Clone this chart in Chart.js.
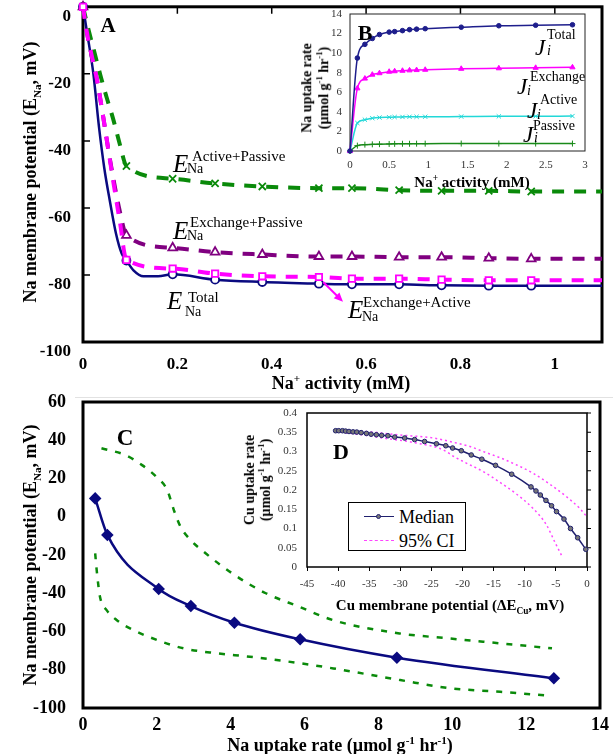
<!DOCTYPE html>
<html>
<head>
<meta charset="utf-8">
<script src="https://cdn.jsdelivr.net/npm/chart.js@4.4.0/dist/chart.umd.min.js"></script>
<style>
body { margin: 0; background: #fff; }
#fig { position: relative; width: 613px; height: 754px; overflow: hidden; font-family: "Liberation Serif", "Times New Roman", serif; }
#fig canvas { position: absolute; }
.t { position: absolute; white-space: nowrap; line-height: 1; color: #000; }
.b { font-weight: bold; }
.ctr { transform: translate(-50%, -50%); }
.lc { transform: translateY(-50%); }
.rot { transform: translate(-50%, -50%) rotate(-90deg); text-align: center; }
.t sup, .t sub { font-size: 0.62em; line-height: 0; }
.E { font-style: italic; font-size: 25px; }
.J { font-style: italic; font-size: 23px; }
.sp { font-size: 15px; }
.sb { font-size: 14px; }
.js { font-size: 14px; }
.ji { font-size: 14px; font-style: italic; }
#legD { position: absolute; left: 348px; top: 502px; width: 116px; height: 47px; border: 1.5px solid #000; background: #fff; }
</style>
</head>
<body>
<div id="fig">
  <canvas id="cA" width="613" height="400" style="left:0;top:0"></canvas>
  <canvas id="cB" width="313" height="185" style="left:290px;top:5px"></canvas>
  <canvas id="cC" width="613" height="364" style="left:0;top:390px"></canvas>
  <canvas id="cD" width="383" height="220" style="left:230px;top:400px"></canvas>

  <div style="position:absolute;left:75px;top:397px;width:538px;height:1px;background:#e2e2e2"></div>

  <!-- panel A texts -->
  <div class="t b ctr" style="left:108px;top:25px;font-size:21px">A</div>
  <div class="t b rot" style="left:30px;top:172px;font-size:18px">Na membrane potential (E<sub>Na</sub>, mV)</div>
  <div class="t b ctr" style="left:341px;top:383px;font-size:18px">Na<sup>+</sup> activity (mM)</div>

  <div class="t E" style="left:173px;top:151px">E</div>
  <div class="t sp lc" style="left:192px;top:156px">Active+Passive</div>
  <div class="t sb lc" style="left:187px;top:169px">Na</div>

  <div class="t E" style="left:173px;top:218px">E</div>
  <div class="t sp lc" style="left:190px;top:222px">Exchange+Passive</div>
  <div class="t sb lc" style="left:187px;top:236px">Na</div>

  <div class="t E" style="left:167px;top:288px">E</div>
  <div class="t sp lc" style="left:188px;top:297px">Total</div>
  <div class="t sb lc" style="left:185px;top:312px">Na</div>

  <div class="t E" style="left:348px;top:297px">E</div>
  <div class="t sp lc" style="left:363px;top:302px">Exchange+Active</div>
  <div class="t sb lc" style="left:362px;top:317px">Na</div>

  <!-- panel B texts -->
  <div class="t b ctr" style="left:365px;top:33px;font-size:22px">B</div>
  <div class="t b rot" style="left:316px;top:88px;font-size:14px;line-height:1.2">Na uptake rate<br>(&micro;mol g<sup>-1</sup> hr<sup>-1</sup>)</div>
  <div class="t b ctr" style="left:472px;top:182px;font-size:15px">Na<sup>+</sup> activity (mM)</div>

  <div class="t J" style="left:535px;top:36px">J</div>
  <div class="t js lc" style="left:547px;top:35px">Total</div>
  <div class="t ji lc" style="left:547px;top:51px">i</div>

  <div class="t J" style="left:517px;top:75px">J</div>
  <div class="t js lc" style="left:530px;top:77px">Exchange</div>
  <div class="t ji lc" style="left:527px;top:91px">i</div>

  <div class="t J" style="left:527px;top:99px">J</div>
  <div class="t js lc" style="left:540px;top:100px">Active</div>
  <div class="t ji lc" style="left:537px;top:115px">i</div>

  <div class="t J" style="left:523px;top:123px">J</div>
  <div class="t js lc" style="left:533px;top:126px">Passive</div>
  <div class="t ji lc" style="left:534px;top:138px">i</div>

  <!-- panel C texts -->
  <div class="t b ctr" style="left:125px;top:437px;font-size:23px">C</div>
  <div class="t b rot" style="left:30px;top:555px;font-size:18px">Na membrane potential (E<sub>Na</sub>, mV)</div>
  <div class="t b ctr" style="left:340px;top:745px;font-size:18px">Na uptake rate (&micro;mol g<sup>-1</sup> hr<sup>-1</sup>)</div>

  <!-- panel D texts -->
  <div class="t b ctr" style="left:341px;top:452px;font-size:22px">D</div>
  <div class="t b rot" style="left:258px;top:480px;font-size:14px;line-height:1.15">Cu uptake rate<br>(&micro;mol g<sup>-1</sup> hr<sup>-1</sup>)</div>
  <div class="t b ctr" style="left:450px;top:605px;font-size:15px">Cu membrane potential (&Delta;E<sub>Cu</sub>, mV)</div>

  <div id="legD">
    <div style="position:absolute;left:15px;top:13px;width:30px;border-top:1.5px solid #20206e"></div>
    <div style="position:absolute;left:27px;top:11px;width:5px;height:5px;border-radius:50%;background:#777;border:1px solid #20206e;box-sizing:border-box"></div>
    <div class="t lc" style="left:50px;top:14px;font-size:18px">Median</div>
    <div style="position:absolute;left:15px;top:37px;width:30px;border-top:1.5px dashed #ff44ff"></div>
    <div class="t lc" style="left:50px;top:38px;font-size:18px">95% CI</div>
  </div>
</div>

<script>
// ---- Panel A: Na membrane potential vs Na+ activity
const aMarkX = [0, 0.092, 0.19, 0.28, 0.38, 0.5, 0.57, 0.67, 0.76, 0.86, 0.95];

const aTotalX = [0, 0.009, 0.022, 0.034, 0.045, 0.057, 0.07, 0.082, 0.092, 0.107, 0.128, 0.159, 0.19, 0.28, 0.38, 0.5, 0.57, 0.67, 0.76, 0.86, 0.95, 1.1];
const aTotalY = [0, -8, -20, -36, -48, -58, -67.7, -73.6, -75.7, -78.6, -80.4, -80.4, -79.8, -81.4, -82.1, -82.6, -82.8, -82.8, -83.1, -83.2, -83.2, -83.2];

const aExActX = [0, 0.008, 0.018, 0.029, 0.043, 0.053, 0.064, 0.078, 0.092, 0.19, 0.28, 0.38, 0.5, 0.57, 0.67, 0.76, 0.86, 0.95, 1.1];
const aExActY = [0, -7.4, -14.3, -21.3, -33, -42, -52, -64, -75.5, -78.1, -79.6, -80.4, -80.6, -81.1, -81.1, -81.4, -81.6, -81.6, -81.6];

const aExPasX = [0, 0.008, 0.018, 0.029, 0.043, 0.053, 0.064, 0.078, 0.092, 0.19, 0.28, 0.38, 0.5, 0.57, 0.67, 0.76, 0.86, 0.95, 1.1];
const aExPasY = [0, -7.4, -14.3, -21.3, -33, -42, -51, -61, -68.2, -71.9, -73.2, -73.9, -74.5, -74.5, -74.7, -74.7, -75.0, -75.2, -75.2];

const aActPasX = [0, 0.012, 0.025, 0.037, 0.05, 0.064, 0.078, 0.092, 0.19, 0.28, 0.38, 0.5, 0.57, 0.67, 0.76, 0.86, 0.95, 1.1];
const aActPasY = [0, -7, -14, -20.5, -27, -33.5, -41, -47.5, -51.3, -52.7, -53.6, -54.1, -54.1, -54.7, -54.9, -54.9, -55.1, -55.1];

const aArrowFrom = [0.509, -82.1];
const aArrowTo = [0.551, -88];

// ---- Panel B: Na uptake rate vs Na+ activity
const bX = [0, 0.094, 0.19, 0.285, 0.376, 0.5, 0.57, 0.67, 0.76, 0.85, 0.96, 1.42, 1.9, 2.37, 2.84];
const bTotal = [0, 9.5, 10.9, 11.5, 11.9, 12.15, 12.2, 12.3, 12.4, 12.45, 12.5, 12.65, 12.8, 12.85, 12.9];
const bExchange = [0, 6.4, 7.4, 7.8, 7.95, 8.1, 8.15, 8.2, 8.24, 8.27, 8.3, 8.4, 8.45, 8.5, 8.55];
const bActive = [0, 2.86, 3.2, 3.35, 3.42, 3.45, 3.47, 3.48, 3.5, 3.5, 3.5, 3.52, 3.54, 3.55, 3.57];
const bPassive = [0, 0.55, 0.65, 0.68, 0.7, 0.72, 0.73, 0.74, 0.74, 0.75, 0.75, 0.76, 0.76, 0.76, 0.76];

// ---- Panel C: membrane potential vs Na uptake rate
const cMedX = [0.33, 0.66, 2.05, 2.92, 4.1, 5.88, 8.5, 12.75];
const cMedY = [9.6, -9.5, -37.8, -46.7, -55.4, -64.1, -73.7, -84.5];
const cUpX = [0.5, 1.14, 1.6, 2.0, 2.28, 2.46, 2.64, 2.87, 3.32, 4.04, 4.95, 5.85, 6.76, 8.57, 9.9, 11.3, 12.7];
const cUpY = [35.8, 32.3, 27, 20.6, 14, 3.5, -5.2, -11.3, -19.1, -29.6, -40, -47, -54, -61, -63.6, -66.2, -68.8];
const cLoX = [0.33, 0.37, 0.46, 0.64, 0.91, 1.36, 2.0, 2.72, 3.62, 4.52, 5.88, 6.78, 8.59, 9.95, 11.3, 12.7];
const cLoY = [-19.1, -27.8, -41.8, -48.8, -54, -59.2, -64.4, -68.8, -71.4, -73.2, -76.6, -79.3, -85.4, -89.7, -91.5, -93.7];

// ---- Panel D: Cu uptake rate vs Cu membrane potential
const dMedX = [-40.4, -39.9, -39.3, -38.8, -38.25, -37.6, -37.0, -36.3, -35.45, -34.7, -33.85, -33.0, -32.0, -30.9, -29.3, -27.7, -26.1, -24.2, -22.7, -21.6, -20.2, -18.6, -16.9, -14.7, -12.1, -9.0, -8.2, -7.5, -6.6, -5.7, -4.9, -3.7, -2.65, -1.5, -0.2];
const dMedY = [0.354, 0.354, 0.354, 0.353, 0.352, 0.351, 0.3505, 0.349, 0.347, 0.345, 0.3436, 0.342, 0.341, 0.3375, 0.335, 0.331, 0.326, 0.32, 0.315, 0.309, 0.302, 0.291, 0.28, 0.264, 0.241, 0.208, 0.1975, 0.187, 0.173, 0.159, 0.144, 0.1245, 0.1, 0.076, 0.046];
const dUpX = [-40.4, -35, -30.1, -24.7, -21.5, -18.8, -16.7, -14.0, -11.3, -8.66, -5.98, -3.3, -1.15, 0];
const dUpY = [0.356, 0.351, 0.343, 0.335, 0.324, 0.313, 0.3, 0.284, 0.265, 0.2436, 0.215, 0.1826, 0.152, 0.13];
const dLoX = [-40.4, -36, -32.8, -27.4, -23.1, -21.4, -19.4, -16.7, -14.0, -11.3, -8.66, -6.5, -5.18, -4.1];
const dLoY = [0.352, 0.343, 0.335, 0.322, 0.304, 0.287, 0.27, 0.248, 0.22, 0.189, 0.152, 0.109, 0.065, 0.0305];

Chart.defaults.font.family = '"Liberation Serif", "Times New Roman", serif';
Chart.defaults.color = '#000';

const pts = (xs, ys) => xs.map((x, i) => ({ x: x, y: ys[i] }));
const fmt = v => String(+Number(v).toFixed(2));

// frame round the plot area, white fill, small ticks
const frame = {
  id: 'frame',
  beforeDraw(chart, args, o) {
    const { ctx, chartArea: a } = chart;
    if (o.fill) {
      ctx.save();
      ctx.fillStyle = o.fill;
      ctx.fillRect(a.left, a.top, a.width, a.height);
      ctx.restore();
    }
  },
  beforeDatasetsDraw(chart, args, o) {
    const { ctx, chartArea: a, scales } = chart;
    ctx.save();
    ctx.strokeStyle = o.color || '#000';
    ctx.lineWidth = o.width;
    ctx.strokeRect(a.left, a.top, a.width, a.height);
    ctx.lineWidth = o.tickWidth || 1;
    ctx.beginPath();
    if (o.inTicks) {
      scales.x.ticks.forEach(t => {
        const px = scales.x.getPixelForValue(t.value);
        if (px <= a.left + 2 || px >= a.right - 2) return;
        ctx.moveTo(px, a.top); ctx.lineTo(px, a.top + o.inTicks);
      });
      scales.y.ticks.forEach(t => {
        const py = scales.y.getPixelForValue(t.value);
        if (py <= a.top + 2 || py >= a.bottom - 2) return;
        ctx.moveTo(a.left, py); ctx.lineTo(a.left + o.inTicks, py);
      });
    }
    if (o.rightTicks) {
      scales.y.ticks.forEach(t => {
        const py = scales.y.getPixelForValue(t.value);
        ctx.moveTo(a.right, py); ctx.lineTo(a.right + o.rightTicks, py);
      });
    }
    ctx.stroke();
    ctx.restore();
  }
};

const arrow = {
  id: 'arrow',
  afterDatasetsDraw(chart) {
    const { ctx, scales } = chart;
    const x1 = scales.x.getPixelForValue(aArrowFrom[0]), y1 = scales.y.getPixelForValue(aArrowFrom[1]);
    const x2 = scales.x.getPixelForValue(aArrowTo[0]), y2 = scales.y.getPixelForValue(aArrowTo[1]);
    const ang = Math.atan2(y2 - y1, x2 - x1);
    ctx.save();
    ctx.strokeStyle = '#ff00ff';
    ctx.fillStyle = '#ff00ff';
    ctx.lineWidth = 2;
    ctx.beginPath();
    ctx.moveTo(x1, y1);
    ctx.lineTo(x2 - 6 * Math.cos(ang), y2 - 6 * Math.sin(ang));
    ctx.stroke();
    ctx.beginPath();
    ctx.moveTo(x2, y2);
    ctx.lineTo(x2 - 9 * Math.cos(ang) + 4 * Math.sin(ang), y2 - 9 * Math.sin(ang) - 4 * Math.cos(ang));
    ctx.lineTo(x2 - 9 * Math.cos(ang) - 4 * Math.sin(ang), y2 - 9 * Math.sin(ang) + 4 * Math.cos(ang));
    ctx.closePath();
    ctx.fill();
    ctx.restore();
  }
};

function fixW(w) {
  return s => { s.width = w; s.paddingTop = 0; s.paddingBottom = 0; };
}
function fixH(h) {
  return s => { s.height = h; s.paddingLeft = 0; s.paddingRight = 0; };
}
function axis(min, max, step, font, color, pad, fit, extra) {
  return Object.assign({
    type: 'linear', min: min, max: max,
    grid: { display: false, drawTicks: false },
    border: { display: false },
    ticks: { stepSize: step, includeBounds: false, font: font, color: color, padding: pad, callback: fmt, maxRotation: 0, autoSkip: false },
    afterFit: fit
  }, extra || {});
}

const base = {
  responsive: false,
  animation: false,
  events: [],
  plugins: { legend: { display: false }, tooltip: { enabled: false } }
};

// A
const markR = r => c => aMarkX.includes(c.raw.x) ? r : 0;
function aLine(xs, ys, color, style, r, dashed) {
  return {
    data: pts(xs, ys),
    borderColor: color,
    borderWidth: dashed ? 4 : 2.5,
    borderDash: dashed ? [12, 10] : [],
    cubicInterpolationMode: 'monotone',
    pointStyle: style,
    pointRadius: markR(r),
    pointBorderColor: color,
    pointBackgroundColor: '#fff',
    pointBorderWidth: 1.8,
    clip: false
  };
}
const boldA = { size: 17, weight: 'bold' };
new Chart(document.getElementById('cA'), {
  type: 'line',
  data: {
    datasets: [
      aLine(aExActX, aExActY, '#ff00ff', 'rect', 4.5, true),
      aLine(aActPasX, aActPasY, '#0a8a0a', 'crossRot', 5, true),
      aLine(aExPasX, aExPasY, '#800080', 'triangle', 5, true),
      aLine(aTotalX, aTotalY, '#0a0a80', 'circle', 4, false)
    ]
  },
  options: Object.assign({}, base, {
    layout: { padding: { top: 5, right: 11, left: 0, bottom: 0 } },
    scales: {
      x: axis(0, 1.1, 0.2, boldA, '#000', 12, fixH(58)),
      y: axis(-100, 0, 20, boldA, '#000', 12, fixW(83), {})
    },
    plugins: Object.assign({}, base.plugins, { frame: { width: 3, inTicks: 7, tickWidth: 1.5 } })
  }),
  plugins: [frame, arrow]
}).options;

// shift A's y labels a little below their ticks, as in the source
(function () {
  const ch = Chart.getChart('cA');
  ch.options.scales.y.ticks.labelOffset = 10;
  ch.update();
})();

// B
function bLine(ys, color, style, r) {
  return {
    data: pts(bX, ys),
    borderColor: color,
    borderWidth: 1.5,
    cubicInterpolationMode: 'monotone',
    pointStyle: style,
    pointRadius: r,
    pointBorderColor: color,
    pointBackgroundColor: color,
    pointBorderWidth: 1,
    clip: false
  };
}
const smallB = { size: 11 };
new Chart(document.getElementById('cB'), {
  type: 'line',
  data: {
    datasets: [
      bLine(bTotal, '#1e1e8c', 'circle', 2.3),
      bLine(bExchange, '#ff00ff', 'triangle', 3),
      bLine(bActive, '#22d8d8', 'crossRot', 3),
      bLine(bPassive, '#1a8a1a', 'cross', 3)
    ]
  },
  options: Object.assign({}, base, {
    layout: { padding: { top: 9, right: 18, left: 0, bottom: 0 } },
    scales: {
      x: axis(0, 3, 0.5, smallB, '#333', 8, fixH(39)),
      y: axis(0, 14, 2, smallB, '#333', 8, fixW(60))
    },
    plugins: Object.assign({}, base.plugins, { frame: { width: 1, color: '#222', fill: '#fff' } })
  }),
  plugins: [frame]
});

// C
const boldC = { size: 18, weight: 'bold' };
new Chart(document.getElementById('cC'), {
  type: 'line',
  data: {
    datasets: [
      {
        data: pts(cMedX, cMedY), borderColor: '#0a0a80', borderWidth: 2.5,
        cubicInterpolationMode: 'monotone', pointStyle: 'rectRot', pointRadius: 4.5,
        pointBackgroundColor: '#0a0a80', pointBorderColor: '#0a0a80', clip: false
      },
      {
        data: pts(cUpX, cUpY), borderColor: '#0a8a0a', borderWidth: 2.5, borderDash: [6, 8],
        cubicInterpolationMode: 'monotone', pointRadius: 0
      },
      {
        data: pts(cLoX, cLoY), borderColor: '#0a8a0a', borderWidth: 2.5, borderDash: [6, 8],
        cubicInterpolationMode: 'monotone', pointRadius: 0
      }
    ]
  },
  options: Object.assign({}, base, {
    layout: { padding: { top: 12, right: 13, left: 0, bottom: 0 } },
    scales: {
      x: axis(0, 14, 2, boldC, '#000', 7, fixH(46)),
      y: axis(-100, 60, 20, boldC, '#000', 17, fixW(83))
    },
    plugins: Object.assign({}, base.plugins, { frame: { width: 3 } })
  }),
  plugins: [frame]
});

// D
const smallD = { size: 11 };
new Chart(document.getElementById('cD'), {
  type: 'line',
  data: {
    datasets: [
      {
        data: pts(dMedX, dMedY), borderColor: '#20206e', borderWidth: 1.5,
        cubicInterpolationMode: 'monotone', pointRadius: 2.3,
        pointBackgroundColor: '#777', pointBorderColor: '#20206e', pointBorderWidth: 1, clip: false
      },
      {
        data: pts(dUpX, dUpY), borderColor: '#ff44ff', borderWidth: 1.5, borderDash: [2, 3],
        cubicInterpolationMode: 'monotone', pointRadius: 0
      },
      {
        data: pts(dLoX, dLoY), borderColor: '#ff44ff', borderWidth: 1.5, borderDash: [2, 3],
        cubicInterpolationMode: 'monotone', pointRadius: 0
      }
    ]
  },
  options: Object.assign({}, base, {
    layout: { padding: { top: 13, right: 26, left: 0, bottom: 0 } },
    scales: {
      x: axis(-45, 0, 5, smallD, '#333', 7, fixH(53), {
        grid: { display: true, drawOnChartArea: false, drawTicks: true, tickLength: 4, color: '#000' }
      }),
      y: axis(0, 0.4, 0.05, smallD, '#333', 10, fixW(77))
    },
    plugins: Object.assign({}, base.plugins, { frame: { width: 1.5, fill: '#fff', rightTicks: 4 } })
  }),
  plugins: [frame]
});
</script>
</body>
</html>
